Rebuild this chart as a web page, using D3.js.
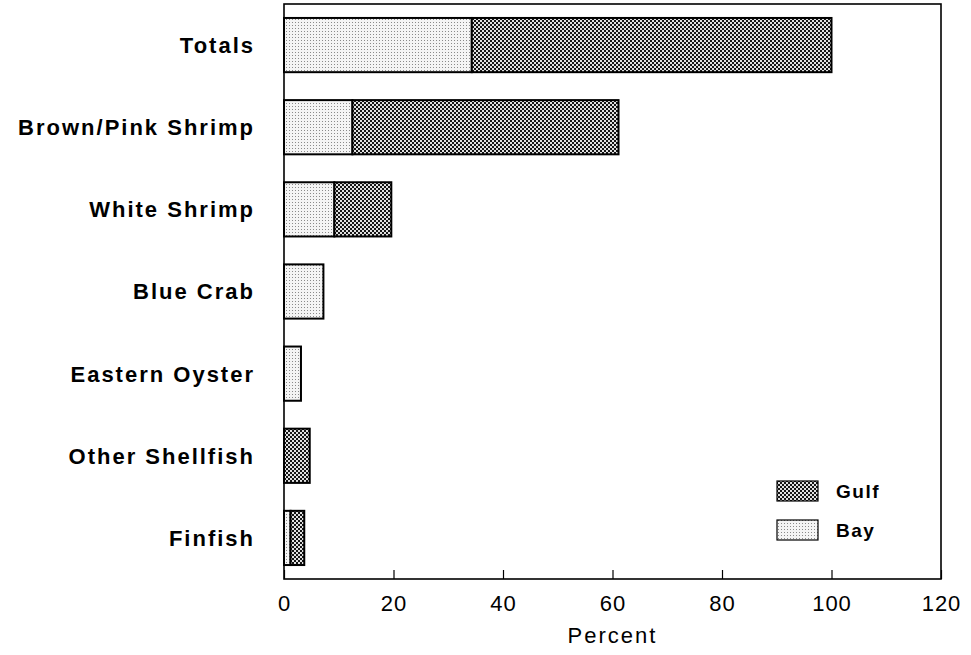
<!DOCTYPE html>
<meta charset="utf-8">
<style>
body { margin: 0; background: #fff; }
svg text { font-family: "Liberation Sans", Arial, sans-serif; fill: #000; }
.cat { font-size: 22px; font-weight: bold; letter-spacing: 2px; }
.tick text { font-size: 22px; letter-spacing: 1px; }
.legend text { font-size: 19px; font-weight: bold; letter-spacing: 1.5px; }
</style>
<svg width="971" height="655"></svg>
<script src="https://d3js.org/d3.v7.min.js"></script>
<script>

var categories = ["Totals", "Brown/Pink Shrimp", "White Shrimp", "Blue Crab",
                  "Eastern Oyster", "Other Shellfish", "Finfish"];
var bayValues  = [34.3, 12.5, 9.2, 7.2, 3.1, 0, 1.2];
var gulfValues = [65.7, 48.6, 10.4, 0, 0, 4.7, 2.5];
var xTicks = [0, 20, 40, 60, 80, 100, 120];
var seriesNames = ["Gulf", "Bay"];

var svg = d3.select("svg"),
    width = +svg.attr("width"),
    height = +svg.attr("height");

var margin = {top: 4, right: 30, bottom: 76, left: 284};

// fill patterns that imitate the printed screens
var defs = svg.append("defs");

var bayPat = defs.append("pattern")
  .attr("id", "bay")
  .attr("width", 3).attr("height", 3)
  .attr("patternUnits", "userSpaceOnUse");
bayPat.append("rect").attr("width", 3).attr("height", 3).attr("fill", "#f4f4f4");
bayPat.append("rect").attr("x", 1).attr("y", 1).attr("width", 1).attr("height", 1).attr("fill", "#8a8a8a");

var gulfPat = defs.append("pattern")
  .attr("id", "gulf")
  .attr("width", 4).attr("height", 4)
  .attr("patternUnits", "userSpaceOnUse");
gulfPat.append("rect").attr("width", 4).attr("height", 4).attr("fill", "#151515");
gulfPat.append("rect").attr("x", 0).attr("y", 0).attr("width", 2).attr("height", 2).attr("fill", "#e0e0e0");
gulfPat.append("rect").attr("x", 2).attr("y", 2).attr("width", 2).attr("height", 2).attr("fill", "#e0e0e0");

var x = d3.scaleLinear()
  .domain([0, 120])
  .range([margin.left, width - margin.right]);

var y = d3.scaleBand()
  .domain(categories)
  .range([margin.top, height - margin.bottom])
  .paddingInner(0.34)
  .paddingOuter(0.17);

var rows = categories.map(function(c, i) {
  return {cat: c, bay: bayValues[i], gulf: gulfValues[i]};
});

// bay segment first, gulf stacked after it
var bars = svg.append("g");
rows.forEach(function(d) {
  if (d.bay > 0) {
    bars.append("rect")
      .attr("x", x(0)).attr("y", y(d.cat))
      .attr("width", x(d.bay) - x(0))
      .attr("height", y.bandwidth())
      .attr("fill", "url(#bay)")
      .attr("stroke", "#000").attr("stroke-width", 2);
  }
  if (d.gulf > 0) {
    bars.append("rect")
      .attr("x", x(d.bay)).attr("y", y(d.cat))
      .attr("width", x(d.bay + d.gulf) - x(d.bay))
      .attr("height", y.bandwidth())
      .attr("fill", "url(#gulf)")
      .attr("stroke", "#000").attr("stroke-width", 2);
  }
});

// frame
svg.append("rect")
  .attr("x", x(0)).attr("y", margin.top)
  .attr("width", x(120) - x(0))
  .attr("height", height - margin.bottom - margin.top)
  .attr("fill", "none")
  .attr("stroke", "#000").attr("stroke-width", 1.6);

// x axis, ticks point inward
var xAxis = svg.append("g")
  .attr("transform", "translate(0," + (height - margin.bottom) + ")")
  .call(d3.axisBottom(x).tickValues(xTicks).tickSizeInner(-9).tickSizeOuter(0).tickPadding(16));
xAxis.select(".domain").remove();
xAxis.selectAll(".tick line").attr("stroke", "#000").attr("stroke-width", 1.2);
xAxis.selectAll(".tick text").attr("font-family", null).attr("font-size", null);

svg.append("text")
  .attr("x", (x(0) + x(120)) / 2)
  .attr("y", height - 12)
  .attr("text-anchor", "middle")
  .style("font-size", "22px")
  .style("letter-spacing", "2px")
  .text("Percent");

// category labels
svg.append("g").selectAll("text")
  .data(categories)
  .enter().append("text")
  .attr("class", "cat")
  .attr("x", x(0) - 29)
  .attr("y", function(d) { return y(d) + y.bandwidth() / 2; })
  .attr("dy", "0.36em")
  .attr("text-anchor", "end")
  .text(function(d) { return d; });

// legend
var legend = svg.append("g").attr("class", "legend");
seriesNames.forEach(function(s, i) {
  var ly = 481 + i * 39;
  legend.append("rect")
    .attr("x", 777).attr("y", ly)
    .attr("width", 41).attr("height", 20)
    .attr("fill", s == "Gulf" ? "url(#gulf)" : "url(#bay)")
    .attr("stroke", "#000").attr("stroke-width", 1.2);
  legend.append("text")
    .attr("x", 836).attr("y", ly + 10)
    .attr("dy", "0.36em")
    .text(s);
});

</script>
